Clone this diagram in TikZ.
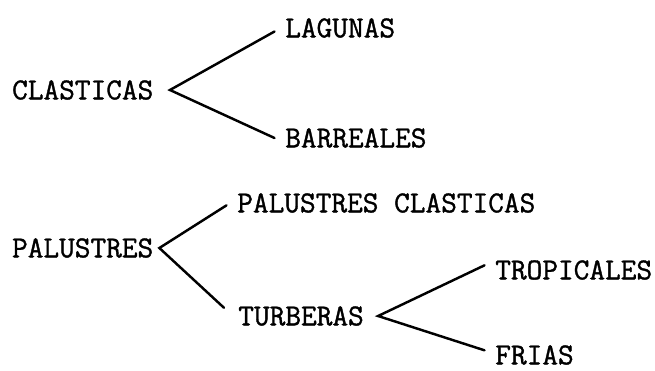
\documentclass[tikz,border=0pt]{standalone}
\usepackage{fontspec}
\usepackage{tikz}
\newfontfamily\typew{Latin Modern Mono}[FakeBold=1.2]
\tikzset{
word/.style={font=\typew\fontsize{26}{30}\selectfont, inner ysep=0pt, anchor=west},
root/.style={word, inner xsep=14pt},
leaf/.style={word, inner xsep=9pt},
branch/.style={line width=2.1pt, line cap=round, line join=miter}}

\begin{document}
\begin{tikzpicture}[x=0.03cm, y=-0.03cm]
    \useasboundingbox (0,0) rectangle (655,371);

                % first group
                \node[root] (clasticas) at (-4.5,90) {CLASTICAS};
                \node[leaf] (lagunas) at (274.5,28) {LAGUNAS};
                \node[leaf] (barreales) at (274.5,138) {BARREALES};

                % second group
                \node[word, inner xsep=5pt] (palustres) at (6,248) {PALUSTRES};
                \node[leaf] (palclasticas) at (226.5,203) {PALUSTRES CLASTICAS};
                \node[word, inner xsep=12pt] (turberas) at (224,316) {TURBERAS};
                \node[leaf] (tropicales) at (484.5,270) {TROPICALES};
                \node[leaf] (frias) at (484.5,355) {FRIAS};

                \draw[branch] ([yshift=-3pt]lagunas.west) -- (clasticas.east) -- (barreales.west);
                \draw[branch] ([yshift=-2pt]palclasticas.west) -- (palustres.east) -- ([yshift=7pt]turberas.west);
                \draw[branch] ([yshift=4pt]tropicales.west) -- (turberas.east) -- ([yshift=4pt]frias.west);

            \end{tikzpicture}
\end{document}
